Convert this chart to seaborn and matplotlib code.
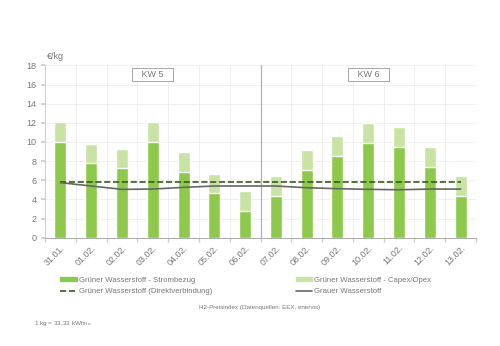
import numpy as np
import pandas as pd
import matplotlib
matplotlib.use("Agg")
import matplotlib.pyplot as plt
import seaborn as sns
from matplotlib.patches import Patch
from matplotlib.lines import Line2D

dates = ["31.01.", "01.02.", "02.02.", "03.02.", "04.02.", "05.02.", "06.02.",
         "07.02.", "08.02.", "09.02.", "10.02.", "11.02.", "12.02.", "13.02."]
strombezug = [10.03, 7.76, 7.24, 9.99, 6.82, 4.63, 2.79,
              4.39, 7.10, 8.57, 9.89, 9.51, 7.38, 4.39]
capex_opex = [2.09, 2.06, 2.06, 2.06, 2.09, 2.06, 2.08,
              2.09, 2.09, 2.05, 2.12, 2.05, 2.06, 2.02]
direkt = [5.78] * 14
grau = [5.75, 5.40, 5.05, 5.08, 5.26, 5.40, 5.40,
        5.40, 5.22, 5.12, 5.05, 5.01, 5.08, 5.08]
weeks = ["KW 5", "KW 6"]

c_dark = "#8DC94A"
c_light = "#C8E4A5"
c_text = "#777777"

sns.set_theme(style="white")
plt.rcParams['font.family'] = ['Liberation Sans', 'DejaVu Sans']

df = pd.DataFrame({"date": dates, "strom": strombezug,
                   "total": np.array(strombezug) + np.array(capex_opex),
                   "direkt": direkt, "grau": grau, "pos": np.arange(len(dates))})

fig = plt.figure(figsize=(5.0, 3.46), dpi=100)
ax = fig.add_axes([0.09, 0.313, 0.862, 0.498])

sns.barplot(data=df, x="date", y="total", color=c_light, width=0.39,
            saturation=1, ax=ax, zorder=2)
sns.barplot(data=df, x="date", y="strom", color=c_dark, width=0.39,
            saturation=1, ax=ax, zorder=3)
sns.lineplot(data=df, x="pos", y="direkt", color="#3a5a1a", linestyle="--",
             linewidth=1.2, ax=ax, zorder=4)
sns.lineplot(data=df, x="pos", y="grau", color="#666666", linewidth=1.2,
             ax=ax, zorder=4)

ax.set_xlim(-0.5, len(dates) - 0.5)
ax.set_ylim(0, 18)
ax.set_yticks(np.arange(0, 19, 2))
ax.set_xlabel("")
ax.set_ylabel("")
ax.set_xticks(np.arange(len(dates)))
ax.set_xticklabels(dates, rotation=45, ha="right", rotation_mode="anchor",
                   fontsize=6.5, color=c_text)
ax.tick_params(axis="x", length=0, pad=4)
ax.tick_params(axis="y", labelsize=6.5, labelcolor=c_text, length=3,
               color="#cccccc", pad=3, left=True)
ax.set_xticks(np.arange(-0.5, len(dates), 1), minor=True)
ax.tick_params(axis="x", which="minor", length=3, color="#cccccc", bottom=True)

for y in np.arange(2, 19, 2):
    ax.axhline(y, color="#ececec", linewidth=0.6, zorder=0)
for x in np.arange(0.5, len(dates) - 0.5, 1):
    if x == 6.5:
        ax.axvline(x, color="#b0b0b0", linewidth=0.9, zorder=1)
    else:
        ax.axvline(x, color="#ececec", linewidth=0.6, zorder=0)

for s in ["top", "right"]:
    ax.spines[s].set_visible(False)
ax.spines["left"].set_color("#cccccc")
ax.spines["left"].set_linewidth(0.7)
ax.spines["bottom"].set_color("#aaaaaa")
ax.spines["bottom"].set_linewidth(0.7)

for label, xpos in zip(weeks, [3, 10]):
    ax.text(xpos, 17.0, "   " + label + "   ", ha="center", va="center",
            fontsize=6.5, color=c_text, zorder=5,
            bbox=dict(boxstyle="square,pad=0.22", fc="white", ec="#999999", lw=0.6))

ax.text(0.005, 1.025, "€/kg", transform=ax.transAxes, fontsize=6.5,
        color=c_text, ha="left", va="bottom")

handles = [Patch(color=c_dark),
           Line2D([0], [0], color="#3a5a1a", linestyle="--", linewidth=1.2),
           Patch(color=c_light),
           Line2D([0], [0], color="#666666", linewidth=1.2)]
labels = ["Grüner Wasserstoff - Strombezug",
          "Grüner Wasserstoff (Direktverbindung)",
          "Grüner Wasserstoff - Capex/Opex",
          "Grauer Wasserstoff"]
leg = fig.legend(handles, labels, ncol=2, loc="center left",
                 bbox_to_anchor=(0.113, 0.173), frameon=False, fontsize=5.6,
                 handlelength=2.1, handleheight=0.5, handletextpad=0.3,
                 columnspacing=10.7, labelspacing=0.55, borderpad=0)
for t in leg.get_texts():
    t.set_color(c_text)

fig.text(0.52, 0.11, "H2-Preisindex (Datenquellen: EEX, enervis)", ha="center",
         va="center", fontsize=4.5, color=c_text)
fig.text(0.068, 0.066, "1 kg = 33,33 kWh$_{\\mathregular{Hu}}$", ha="left",
         va="center", fontsize=4.6, color=c_text)

fig.savefig("out.png", dpi=100, facecolor="white")
